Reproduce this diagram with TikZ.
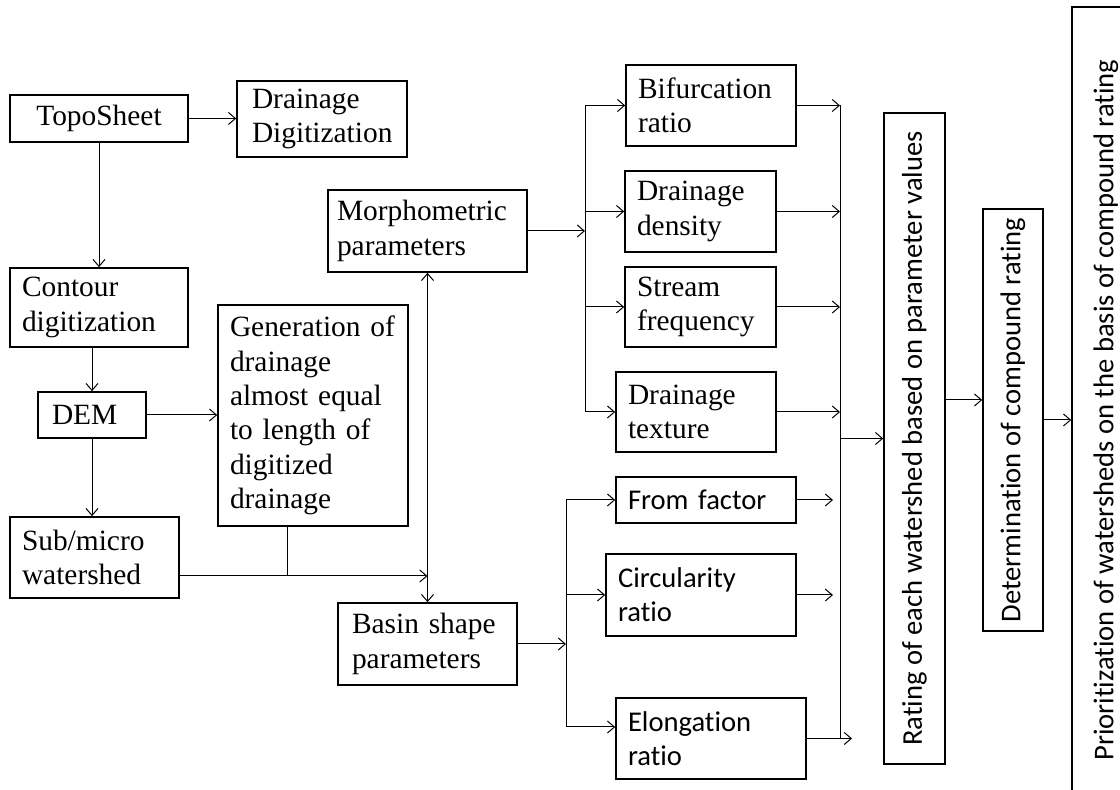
\documentclass[tikz,border=0pt]{standalone}
\usepackage{fontspec}
\setmainfont{Liberation Serif}
\newfontfamily\carfont[Ligatures=CommonOff]{Carlito}
\usetikzlibrary{arrows.meta}
\newcommand\tmsz{\fontsize{14.7pt}{17.2pt}\selectfont}
\newcommand\crsz{\carfont\fontsize{14.3pt}{17pt}\selectfont}
\begin{document}
\begin{tikzpicture}[x=0.5pt,y=-0.5pt,
 bx/.style={draw, line width=0.8pt, inner xsep=6pt, inner ysep=2pt, align=left, font=\tmsz},
 cb/.style={bx, font=\crsz},
 rb/.style={draw, line width=0.8pt, inner sep=0pt, font=\crsz},
 arr/.style={line width=0.5pt, -{Straight Barb[length=3.5pt,width=6pt]}},
 ln/.style={line width=0.5pt}]
\useasboundingbox (0,0) rectangle (1120,790);
\clip (0,0) rectangle (1120,790);

% left column
\node[bx, align=center, minimum width=89pt, minimum height=23.5pt, text width=77pt] (topo) at (99,118.5) {TopoSheet};
\node[bx, inner xsep=7.5pt, minimum width=85pt, minimum height=38pt, text width=70pt] (dd) at (322,119) {Drainage\\Digitization};
\node[bx, minimum width=89pt, minimum height=39.5pt, text width=77pt] (contour) at (99,307.5) {Contour\\digitization};
\node[bx, inner xsep=7pt, minimum width=54pt, minimum height=23pt, text width=40pt] (dem) at (92,415) {DEM};
\node[bx, minimum width=95pt, minimum height=110.5pt, text width=83pt] (gen) at (313,415.5) {Generation of\\drainage\\almost equal\\to length of\\digitized\\drainage};
\node[bx, minimum width=84.5pt, minimum height=40.5pt, text width=72.5pt] (sub) at (94.5,557.5) {Sub/micro\\watershed};

% middle
\node[bx, inner xsep=4.5pt, minimum width=99.5pt, minimum height=41pt, text width=90.5pt] (morph) at (427.5,231) {Morphometric\\parameters};
\node[bx, inner xsep=7pt, minimum width=89.5pt, minimum height=41pt, text width=75.5pt] (basin) at (427.5,644) {Basin shape\\parameters};

% parameter boxes
\node[bx, minimum width=85pt, minimum height=40.5pt, text width=73pt] (bif) at (711,105.5) {Bifurcation\\ratio};
\node[bx, minimum width=75.5pt, minimum height=40.5pt, text width=63.5pt] (dens) at (700.5,211.5) {Drainage\\density};
\node[bx, minimum width=75.5pt, minimum height=40pt, text width=63.5pt] (strm) at (700.5,307) {Stream\\frequency};
\node[bx, minimum width=80pt, minimum height=40pt, text width=68pt] (tex) at (696,412) {Drainage\\texture};
\node[cb, minimum width=90pt, minimum height=23pt, text width=78pt] (form) at (706,500) {From factor};
\node[cb, minimum width=95pt, minimum height=41pt, text width=83pt] (circ) at (701,595) {Circularity\\ratio};
\node[cb, minimum width=95pt, minimum height=40.5pt, text width=83pt] (elong) at (711,738.5) {Elongation\\ratio};

% right column
\node[rb, minimum width=30.5pt, minimum height=325.5pt] (rating) at (914.5,438.5) {\rotatebox{90}{Rating of each watershed based on parameter values}};
\node[rb, minimum width=30pt, minimum height=211pt] (det) at (1013,420) {\rotatebox{90}{Determination of compound rating}};
\node[rb, minimum width=34pt, minimum height=403pt] (prior) at (1106,410) {\rotatebox{90}{Prioritization of watersheds on the basis of compound rating}};

% left connectors
\draw[arr] (topo.east) -- (topo.east -| dd.west);
\draw[arr] (topo.south) -- (contour.north);
\draw[arr] (dem.north |- contour.south) -- (dem.north);
\draw[arr] (dem.south) -- (dem.south |- sub.north);
\draw[arr] (dem.east) -- (dem.east -| gen.west);
\coordinate (j) at (427.5,576);
\coordinate (g) at (287,576);
\draw[arr] (sub.east |- j) -- (j);
\draw[ln] (g |- gen.south) -- (g);
\draw[arr] (j) -- (morph.south);
\draw[arr] (j) -- (basin.north);

% morphometric branch
\coordinate (mb) at (585,231);
\draw[arr] (morph.east) -- (mb);
\draw[ln] (mb |- bif.west) -- (mb |- tex.west);
\draw[arr] (mb |- bif.west) -- (bif.west);
\draw[arr] (mb |- dens.west) -- (dens.west);
\draw[arr] (mb |- strm.west) -- (strm.west);
\draw[arr] (mb |- tex.west) -- (tex.west);

% basin branch
\coordinate (bb) at (566,644);
\coordinate (eb) at (566,727);
\draw[arr] (basin.east) -- (bb);
\draw[ln] (bb |- form.west) -- (eb);
\draw[arr] (bb |- form.west) -- (form.west);
\draw[arr] (bb |- circ.west) -- (circ.west);
\draw[arr] (eb) -- (eb -| elong.west);

% collector
\coordinate (col) at (840,438.5);
\coordinate (col2) at (833,438.5);
\coordinate (col3) at (852,438.5);
\draw[ln] (col |- bif.east) -- (col |- elong.east);
\draw[arr] (bif.east) -- (bif.east -| col);
\draw[arr] (dens.east) -- (dens.east -| col);
\draw[arr] (strm.east) -- (strm.east -| col);
\draw[arr] (tex.east) -- (tex.east -| col);
\draw[arr] (form.east) -- (form.east -| col2);
\draw[arr] (circ.east) -- (circ.east -| col2);
\draw[arr] (elong.east) -- (elong.east -| col3);
\draw[arr] (col |- rating.west) -- (rating.west);

% right connectors
\coordinate (rd) at (960,400);
\draw[arr] (rd -| rating.east) -- (rd -| det.west);
\draw[arr] (det.east) -- (det.east -| prior.west);
\end{tikzpicture}
\end{document}
